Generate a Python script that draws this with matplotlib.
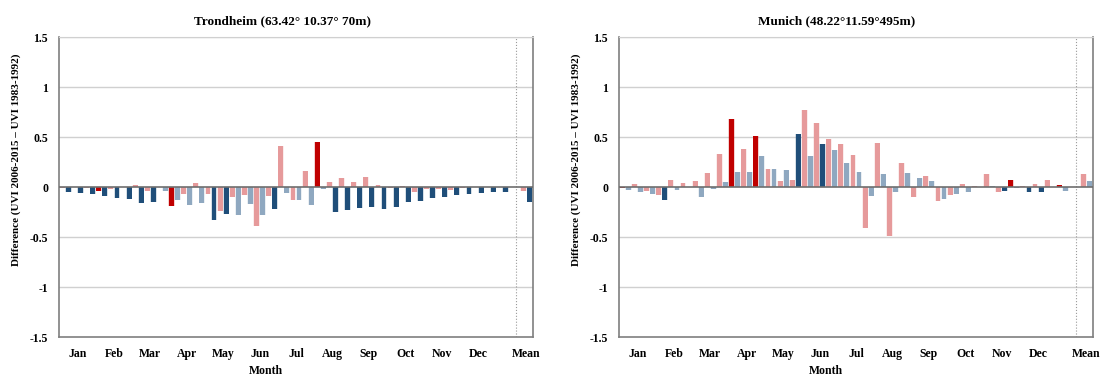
import numpy as np
import matplotlib.pyplot as plt

plt.rcParams['font.family'] = ['Liberation Serif', 'DejaVu Serif']
plt.rcParams['font.weight'] = 'bold'

months = ['Jan', 'Feb', 'Mar', 'Apr', 'May', 'Jun',
          'Jul', 'Aug', 'Sep', 'Oct', 'Nov', 'Dec']

# 37 ten-day periods through the year, last entry = annual mean
tro_first = [-0.01, -0.00, -0.01, -0.04, -0.02, -0.00, 0.02, -0.04, 0.00, -0.19,
             -0.07, 0.04, -0.07, -0.24, -0.10, -0.08, -0.39, -0.09, 0.41, -0.13,
             0.16, 0.45, 0.05, 0.09, 0.05, 0.10, 0.02, -0.01, 0.01, -0.05,
             -0.02, -0.02, -0.03, -0.01, 0.00, 0.00, 0.00, -0.04]
tro_first_sig = [0, 0, 0, 1, 0, 0, 0, 0, 0, 1, 0, 0, 0, 0, 0, 0, 0, 0, 0, 0,
                 0, 1, 0, 0, 0, 0, 0, 0, 0, 0, 0, 0, 0, 0, 0, 0, 0, 0]
tro_second = [-0.05, -0.06, -0.07, -0.09, -0.11, -0.12, -0.16, -0.15, -0.04, -0.13,
              -0.18, -0.16, -0.33, -0.27, -0.28, -0.17, -0.28, -0.22, -0.06, -0.13,
              -0.18, -0.02, -0.25, -0.23, -0.21, -0.20, -0.22, -0.20, -0.15, -0.14,
              -0.11, -0.10, -0.08, -0.07, -0.06, -0.05, -0.05, -0.15]
tro_second_sig = [1, 1, 1, 1, 1, 1, 1, 1, 0, 0, 0, 0, 1, 1, 0, 0, 0, 1, 0, 0,
                  0, 0, 1, 1, 1, 1, 1, 1, 1, 1, 1, 1, 1, 1, 1, 1, 1, 1]

muc_first = [-0.01, 0.03, -0.04, -0.08, 0.07, 0.04, 0.06, 0.14, 0.33, 0.68,
             0.38, 0.51, 0.18, 0.06, 0.07, 0.77, 0.64, 0.48, 0.43, 0.32,
             -0.41, 0.44, -0.49, 0.24, -0.10, 0.11, -0.14, -0.08, 0.03, 0.01,
             0.13, -0.05, 0.07, 0.01, 0.03, 0.07, 0.02, 0.13]
muc_first_sig = [1, 0, 0, 0, 0, 0, 0, 0, 0, 1, 0, 1, 0, 0, 0, 0, 0, 0, 0, 0,
                 0, 0, 0, 0, 0, 0, 0, 0, 0, 0, 0, 0, 1, 0, 0, 0, 1, 0]
muc_second = [-0.03, -0.05, -0.07, -0.13, -0.03, 0.00, -0.10, -0.02, 0.05, 0.15,
              0.15, 0.31, 0.18, 0.17, 0.53, 0.31, 0.43, 0.37, 0.24, 0.15,
              -0.09, 0.13, -0.05, 0.14, 0.09, 0.06, -0.12, -0.07, -0.05, -0.00,
              0.01, -0.04, -0.01, -0.05, -0.05, 0.00, -0.04, 0.06]
muc_second_sig = [0, 0, 0, 1, 0, 0, 0, 0, 0, 0, 0, 0, 0, 0, 1, 0, 1, 0, 0, 0,
                  0, 0, 0, 0, 0, 0, 0, 0, 0, 0, 0, 1, 0, 1, 1, 0, 0, 0]

RED_DARK, RED_LIGHT = '#C00000', '#E69A9B'
BLUE_DARK, BLUE_LIGHT = '#1F4E79', '#8FA8C0'

W, H = 1102, 376
fig = plt.figure(figsize=(W / 100, H / 100), dpi=100)


def px(x, y):
    return x / W, 1 - y / H


def panel(left, first, first_sig, second, second_sig, title, title_x):
    ax = fig.add_axes([left / W, 1 - 337 / H, 473.4 / W, 300 / H])
    n = len(first)
    x = np.arange(n) + 0.5
    x[-1] = 38.5  # mean sits after one empty slot
    c1 = [RED_DARK if s else RED_LIGHT for s in first_sig]
    c2 = [BLUE_DARK if s else BLUE_LIGHT for s in second_sig]
    # soft halo behind each bar
    ax.bar(x - 0.25, first, 0.52, color=c1, alpha=0.18, zorder=2)
    ax.bar(x + 0.25, second, 0.52, color=c2, alpha=0.18, zorder=2)
    ax.bar(x - 0.25, first, 0.4, color=c1, zorder=3)
    ax.bar(x + 0.25, second, 0.4, color=c2, zorder=3)

    ax.set_xlim(0, 39)
    ax.set_ylim(-1.5, 1.5)
    ax.set_yticks([-1.5, -1, -0.5, 0, 0.5, 1, 1.5])
    ax.set_yticklabels(['-1.5', '-1', '-0.5', '0', '0.5', '1', '1.5'])
    ax.set_xticks(list(1.5 + 3 * np.arange(12)) + [38.5])
    ax.set_xticklabels(months + ['Mean'])
    ax.tick_params(length=0, labelsize=8.5)
    ax.tick_params(axis='y', pad=8)
    ax.tick_params(axis='x', pad=8)
    for v in [-1, -0.5, 0.5, 1, 1.5]:
        ax.axhline(v, color='#D0D0D0', lw=1, zorder=1)
    ax.axhline(0, color='#6E6E6E', lw=1.2, zorder=4)
    ax.axvline(37.65, color='#9A9A9A', lw=0.8, ls=':', zorder=1)
    for side in ['left', 'bottom', 'right']:
        ax.spines[side].set_color('#7F7F7F')
        ax.spines[side].set_linewidth(1.2)
    ax.spines['top'].set_color('#D0D0D0')

    fig.text(*px(title_x, 21), title, ha='center', va='center', fontsize=9.5)
    fig.text(*px(left - 43, 160), 'Difference (UVI 2006-2015 \u2013 UVI 1983-1992)',
             rotation=90, ha='center', va='center', fontsize=8)
    fig.text(*px(left + 206.5, 371), 'Month', ha='center', va='center', fontsize=8.5)
    return ax


panel(59.3, tro_first, tro_first_sig, tro_second, tro_second_sig,
      'Trondheim (63.42\u00b0 10.37\u00b0 70m)', 283)
panel(619.3, muc_first, muc_first_sig, muc_second, muc_second_sig,
      'Munich (48.22\u00b011.59\u00b0495m)', 837)

fig.savefig('out.png', dpi=100)
